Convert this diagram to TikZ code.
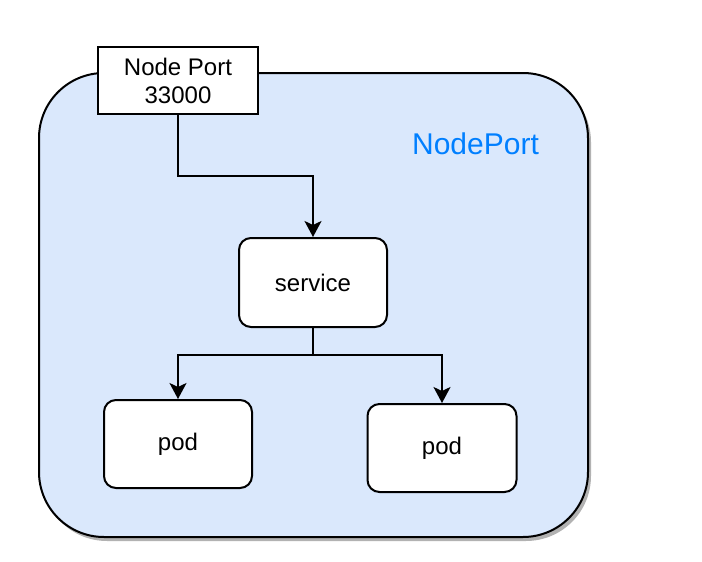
\documentclass[tikz,border=0pt]{standalone}
\usepackage{fontspec}
\setmainfont{Liberation Sans}
\usetikzlibrary{arrows.meta}
\usetikzlibrary{shadows}
\definecolor{clusterblue}{HTML}{DAE8FC}
\definecolor{labelblue}{HTML}{007FFF}
\tikzset{x=1pt, y=-1pt,
every node/.style={ % Sets the properties for each node
font=\fontsize{24}{28}\selectfont,
inner sep=0pt},
cluster/.style={ % Big rounded area behind everything
draw, line width=2pt,
fill=clusterblue,
rounded corners=65pt,
drop shadow={shadow xshift=3pt, shadow yshift=-4pt, fill=black!30, opacity=1}},
port/.style={ % Square box on the edge
draw, line width=2pt, fill=white, align=center},
box/.style={ % Rounded white boxes
draw, line width=2pt, fill=white,
rounded corners=12pt},
link/.style={ % Connectors
draw, line width=2pt,
-{Stealth[length=16pt, width=17pt, inset=4pt]}}}
\begin{document}
\begin{tikzpicture}
\useasboundingbox (0,0) rectangle (702,562);
\node[cluster, minimum width=549pt, minimum height=464pt] (cluster) at (313.5,305) {};
\node[font=\fontsize{30}{34}\selectfont, text=labelblue] (title) at (475.5,144) {NodePort};
\node[port, minimum width=160pt, minimum height=67pt] (np) at (178,80.5) {Node Port\\33000};
\node[box, minimum width=148pt, minimum height=89pt] (svc) at (313,282.5) {service};
\node[box, minimum width=148pt, minimum height=88pt] (pod1) at (178,444) {pod};
\node[box, minimum width=149pt, minimum height=88pt] (pod2) at (442,448) {pod};
\coordinate (join) at (313,176);
\coordinate (fork) at (313,355);
\draw[link] (np) |- (join) -- (svc);
\draw[line width=2pt] (svc) -- (fork);
\draw[link] (fork) -| (pod1);
\draw[link] (fork) -| (pod2);
\end{tikzpicture}
\end{document}
